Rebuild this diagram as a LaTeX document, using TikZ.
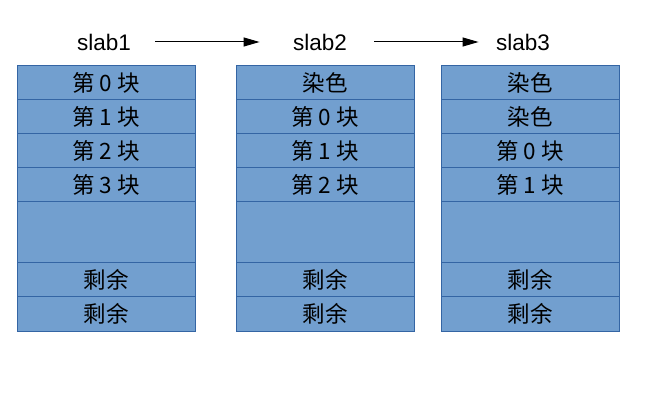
\documentclass[tikz,border=0pt]{standalone}
\usepackage{fontspec}
\setmainfont{Liberation Sans}
\newfontfamily\cjk{Noto Sans CJK SC}
\usetikzlibrary{positioning, arrows.meta}
\definecolor{cellblue}{RGB}{114, 159, 207}
\definecolor{edgeblue}{RGB}{52, 101, 164}

\begin{document}
\begin{tikzpicture}[x=1pt, y=-1pt,
                cell/.style={draw=edgeblue, fill=cellblue, line width=1pt,
                    minimum width=178pt, minimum height=34pt,
                    inner sep=0pt, outer sep=0pt, anchor=north,
                    font=\cjk\fontsize{22.5}{26}\selectfont},
                gap/.style={cell, minimum height=61pt},
                title/.style={font=\fontsize{22.5}{26}\selectfont},
                move/.style={-{Triangle[length=16pt, width=9pt]}, line width=1pt}
            ]
                \useasboundingbox (0, 0) rectangle (659, 414);

                % column titles
                \node[title] (slab1) at (104, 42) {slab1};
                \node[title] (slab2) at (320, 42) {slab2};
                \node[title] (slab3) at (523, 42) {slab3};
                \draw[move, shorten <=21pt, shorten >=30pt] (slab1) -- (slab2);
                \draw[move, shorten <=24pt, shorten >=14pt] (slab2) -- (slab3);

                % slab1
                \node[cell] (a0) at (106, 66) {第 0 块};
                \node[cell, below=0pt of a0] (a1) {第 1 块};
                \node[cell, below=0pt of a1] (a2) {第 2 块};
                \node[cell, below=0pt of a2] (a3) {第 3 块};
                \node[gap, below=0pt of a3] (a4) {};
                \node[cell, below=0pt of a4] (a5) {剩余};
                \node[cell, below=0pt of a5] (a6) {剩余};

                % slab2
                \node[cell] (b0) at (325, 66) {染色};
                \node[cell, below=0pt of b0] (b1) {第 0 块};
                \node[cell, below=0pt of b1] (b2) {第 1 块};
                \node[cell, below=0pt of b2] (b3) {第 2 块};
                \node[gap, below=0pt of b3] (b4) {};
                \node[cell, below=0pt of b4] (b5) {剩余};
                \node[cell, below=0pt of b5] (b6) {剩余};

                % slab3
                \node[cell] (c0) at (530, 66) {染色};
                \node[cell, below=0pt of c0] (c1) {染色};
                \node[cell, below=0pt of c1] (c2) {第 0 块};
                \node[cell, below=0pt of c2] (c3) {第 1 块};
                \node[gap, below=0pt of c3] (c4) {};
                \node[cell, below=0pt of c4] (c5) {剩余};
                \node[cell, below=0pt of c5] (c6) {剩余};

            \end{tikzpicture}
\end{document}
